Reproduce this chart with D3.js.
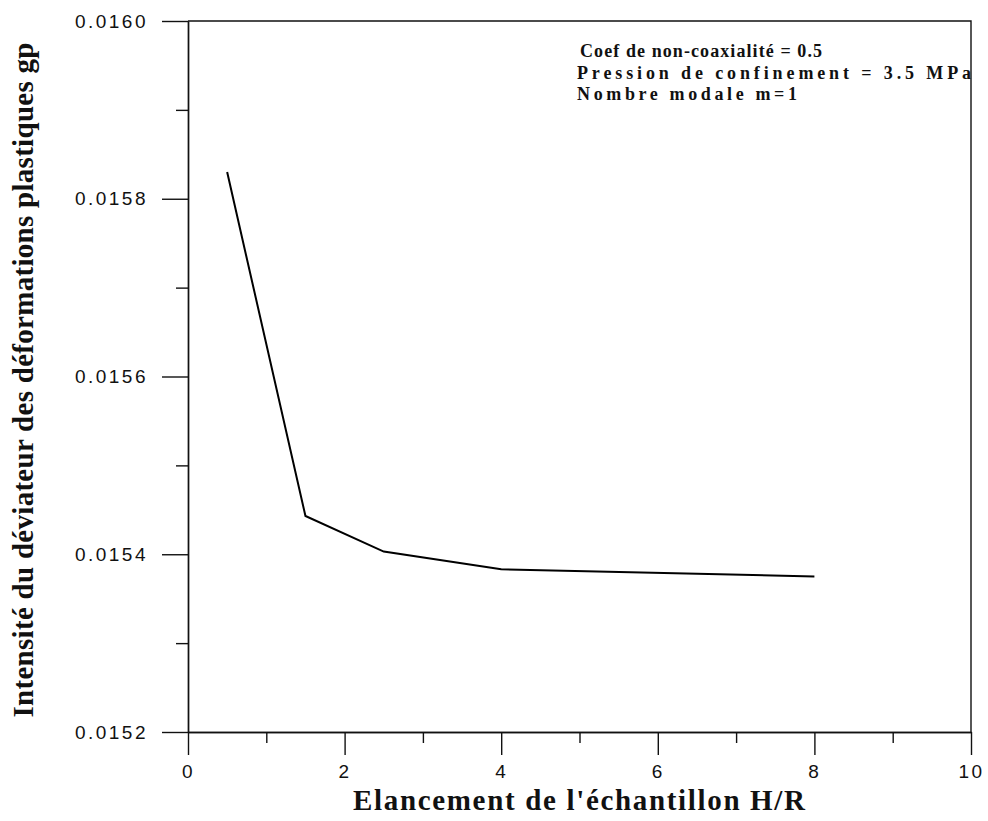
<html lang="fr">
<head>
<meta charset="UTF-8">
<title>Intensité du déviateur</title>
<script src="https://d3js.org/d3.v7.min.js"></script>
<style>
  body { margin: 0; background: #fff; }
  .tick text { font-family: "Liberation Sans", Arial, sans-serif; font-size: 19px; letter-spacing: 2.5px; fill: #111; }
  .title { font-family: "Liberation Serif", "Times New Roman", serif; font-weight: bold; fill: #111; }
</style>
</head>
<body>
<div id="chart"></div>
<script>
// data
const elancement = [0.5, 1.5, 2.5, 4, 8];
const intensite = [0.01583, 0.015443, 0.015403, 0.015383, 0.015375];

const xMajor = [0, 2, 4, 6, 8, 10];
const xMinor = [1, 3, 5, 7, 9];
const yMajor = [0.0152, 0.0154, 0.0156, 0.0158, 0.0160];
const yMinor = [0.0153, 0.0155, 0.0157, 0.0159];

const notes = ["Coef de non-coaxialité = 0.5", "Pression de confinement = 3.5 MPa", "Nombre modale m=1"];
const xTitle = "Elancement de l'échantillon H/R";
const yTitle = "Intensité du déviateur des déformations plastiques gp";

const svg = d3.select("#chart")
  .append("svg")
  .attr("width", 988)
  .attr("height", 821);

var x_scale = d3.scaleLinear().domain([0, 10]).range([188, 971]);
var y_scale = d3.scaleLinear().domain([0.0152, 0.0160]).range([732, 21]);

// x axis, major + minor ticks
svg.append("g")
  .attr("transform", `translate(0, ${y_scale(0.0152)})`)
  .call(d3.axisBottom(x_scale).tickValues(xMajor).tickFormat(d3.format("d")).tickSize(23).tickSizeOuter(0).tickPadding(10))
svg.append("g")
  .attr("transform", `translate(0, ${y_scale(0.0152)})`)
  .call(d3.axisBottom(x_scale).tickValues(xMinor).tickFormat("").tickSize(11).tickSizeOuter(0))

// y axis
svg.append("g")
  .attr("transform", `translate(${x_scale(0)}, 0)`)
  .call(d3.axisLeft(y_scale).tickValues(yMajor).tickFormat(d3.format(".4f")).tickSize(26).tickSizeOuter(0).tickPadding(14))
svg.append("g")
  .attr("transform", `translate(${x_scale(0)}, 0)`)
  .call(d3.axisLeft(y_scale).tickValues(yMinor).tickFormat("").tickSize(12).tickSizeOuter(0))

svg.selectAll(".domain, .tick line")
  .attr("stroke", "#111")
  .attr("stroke-width", 1.4)

// top and right border
svg.append("path")
  .attr("d", `M${x_scale(0)},${y_scale(0.0160)}H${x_scale(10)}V${y_scale(0.0152)}`)
  .attr("fill", "none")
  .attr("stroke", "#111")
  .attr("stroke-width", 1.4)

// the curve
const line = d3.line()
  .x((d, i) => x_scale(elancement[i]))
  .y(d => y_scale(d));

svg.append("path")
  .datum(intensite)
  .attr("d", line)
  .attr("fill", "none")
  .attr("stroke", "#000")
  .attr("stroke-width", 2)

// axis titles
svg.append("text")
  .attr("class", "title")
  .attr("x", 579)
  .attr("y", 810)
  .attr("text-anchor", "middle")
  .attr("textLength", 452)
  .attr("lengthAdjust", "spacing")
  .style("font-size", "29px")
  .text(xTitle)

svg.append("text")
  .attr("class", "title")
  .attr("transform", "translate(33, 380) rotate(-90)")
  .attr("text-anchor", "middle")
  .attr("textLength", 675)
  .attr("lengthAdjust", "spacing")
  .style("font-size", "29px")
  .text(yTitle)

// annotation block
const noteX = [580, 577, 577];
const noteLen = [242, 394, 220];
svg.append("g")
  .selectAll("text")
  .data(notes)
  .enter()
  .append("text")
    .attr("class", "title")
    .attr("x", (d, i) => noteX[i])
    .attr("y", (d, i) => 57 + i * 21.5)
    .attr("textLength", (d, i) => noteLen[i])
    .attr("lengthAdjust", "spacing")
    .style("font-size", "18px")
    .text(d => d)
</script>
</body>
</html>
